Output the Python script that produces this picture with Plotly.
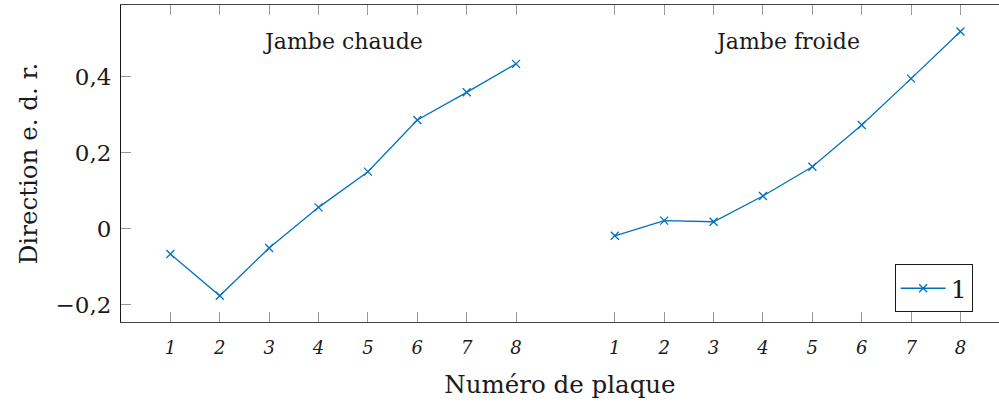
import plotly.graph_objects as go

# Data
plates = ["1", "2", "3", "4", "5", "6", "7", "8"]
pos_chaude = [1, 2, 3, 4, 5, 6, 7, 8]
pos_froide = [10, 11, 12, 13, 14, 15, 16, 17]
jambe_chaude = [-0.067, -0.177, -0.051, 0.056, 0.150, 0.286, 0.359, 0.434]
jambe_froide = [-0.019, 0.021, 0.018, 0.086, 0.163, 0.273, 0.395, 0.519]
y_tickvals = [-0.2, 0, 0.2, 0.4]
y_ticktext = ["\u22120,2", "0", "0,2", "0,4"]
series_name = "1"

FONT = "DejaVu Serif"
BLUE = "rgb(0,114,189)"
TXT = "#1a1a1a"

x_all = pos_chaude + [None] + pos_froide
y_all = jambe_chaude + [None] + jambe_froide

fig = go.Figure()
fig.add_trace(go.Scatter(
    x=x_all, y=y_all, mode="lines+markers", name=series_name,
    connectgaps=False,
    line=dict(color=BLUE, width=1.3),
    marker=dict(symbol="x-thin", size=8, line=dict(color=BLUE, width=1.3)),
))

fig.add_annotation(x=4.5, y=0.493, text="Jambe chaude", showarrow=False,
                   font=dict(family=FONT, size=22, color=TXT))
fig.add_annotation(x=13.5, y=0.493, text="Jambe froide", showarrow=False,
                   font=dict(family=FONT, size=22, color=TXT))

fig.update_layout(
    width=999, height=403,
    margin=dict(l=121, r=0, t=5, b=81),
    paper_bgcolor="white", plot_bgcolor="white",
    font=dict(family=FONT, color=TXT),
    showlegend=True,
    legend=dict(x=0.97, y=0.03, xanchor="right", yanchor="bottom",
                bordercolor=TXT, borderwidth=1, bgcolor="white",
                font=dict(family=FONT, size=25), itemwidth=45,
                tracegroupgap=0),
    xaxis=dict(
        range=[0, 17.78],
        tickvals=pos_chaude + pos_froide,
        ticktext=["<i>" + p + "</i>" for p in plates] * 2,
        tickfont=dict(family=FONT, size=18, color=TXT),
        ticks="inside", ticklen=10, tickcolor="#999", tickwidth=1,
        ticklabelstandoff=9,
        showline=True, linecolor="#444", linewidth=1, mirror="ticks",
        showgrid=False, zeroline=False,
        title=dict(text="Numéro de plaque", font=dict(family=FONT, size=24.5, color=TXT),
                   standoff=19),
    ),
    yaxis=dict(
        range=[-0.246, 0.589],
        tickvals=y_tickvals, ticktext=y_ticktext,
        tickfont=dict(family=FONT, size=23, color=TXT),
        ticks="inside", ticklen=10, tickcolor="#999", tickwidth=1,
        ticklabelstandoff=4,
        showline=True, linecolor=TXT, linewidth=1, mirror=False,
        showgrid=False, zeroline=False,
        title=dict(text="Direction e. d. r.", font=dict(family=FONT, size=24.5, color=TXT),
                   standoff=10),
    ),
)

fig.write_html("out.html", config={"displayModeBar": False},
               post_script="document.body.style.margin='0';")
